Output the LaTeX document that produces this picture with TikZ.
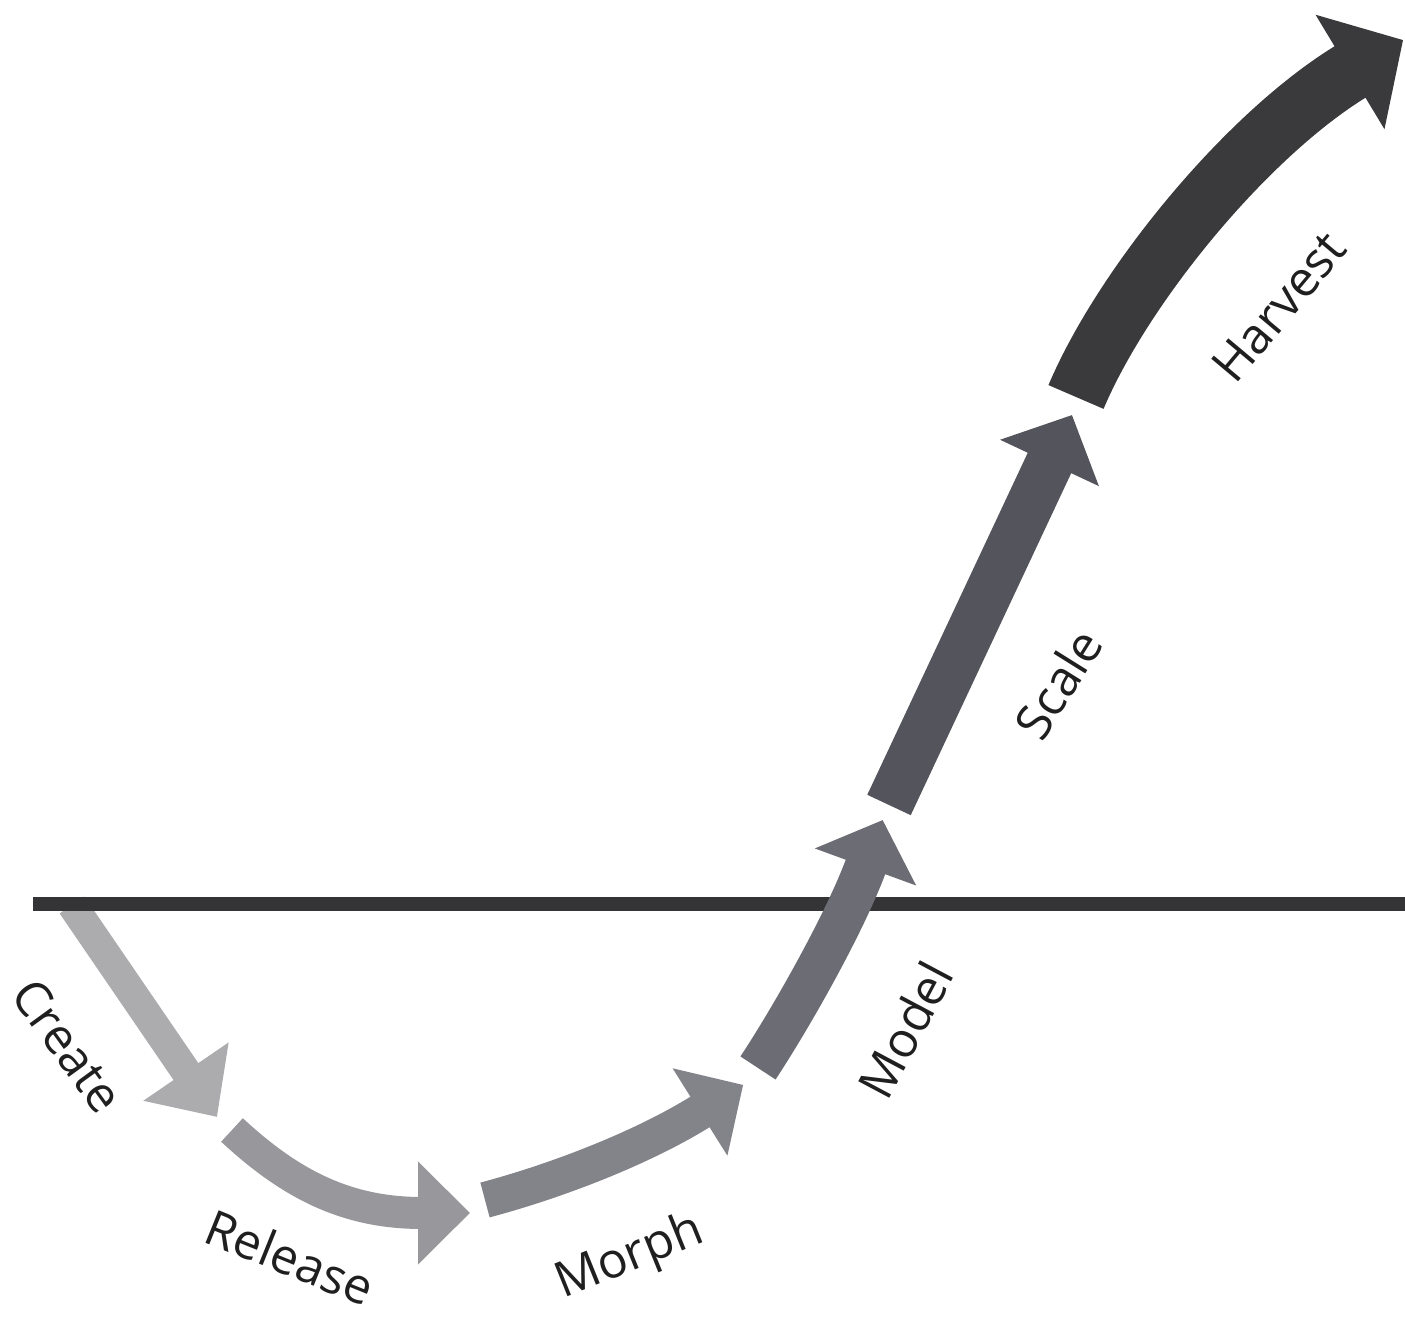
\documentclass[tikz,border=0pt]{standalone}
\usepackage{fontspec}
\setmainfont{Open Sans}
\usepackage{xcolor}
\usetikzlibrary{arrows.meta, calc}

\definecolor{stageA}{RGB}{172,172,175}
\definecolor{stageB}{RGB}{151,151,156}
\definecolor{stageC}{RGB}{131,131,138}
\definecolor{stageD}{RGB}{108,108,116}
\definecolor{stageE}{RGB}{84,84,92}
\definecolor{stageF}{RGB}{58,58,60}
\definecolor{axisgray}{RGB}{52,52,54}

\begin{document}
\begin{tikzpicture}[
    x=1cm, y=1cm,
    every node/.style={font=\fontsize{14}{16}\selectfont, text=black!88, inner sep=0pt},
    stagearrow/.style={line cap=butt, line join=miter},
    axisline/.style={draw=axisgray, line width=0.14cm},
    lbl/.style={anchor=center}
  ]

    \useasboundingbox (0,0) rectangle (14.05,13.20);

    % Stage end points (curved stages end at the base of their head)
    \coordinate (createS)  at (0.72,4.15);
    \coordinate (createT)  at (2.17,2.03);
    \coordinate (releaseS) at (2.32,1.90);
    \coordinate (releaseE) at (4.18,1.07);
    \coordinate (morphS)   at (4.85,1.20);
    \coordinate (morphE)   at (7.00,2.08);
    \coordinate (modelS)   at (7.58,2.52);
    \coordinate (modelE)   at (8.655,4.53);
    \coordinate (scaleS)   at (8.89,5.15);
    \coordinate (scaleT)   at (10.72,9.05);
    \coordinate (harvestS) at (10.76,9.23);
    \coordinate (harvestE) at (13.50,12.48);
    \coordinate (axisL)    at (0.33,4.16);
    \coordinate (axisR)    at (14.05,4.16);

    % Create (starts under the axis)
    \draw[stagearrow, draw=stageA, line width=0.30cm,
          -{Triangle[width=1.00cm, length=0.55cm]}]
      (createS) -- (createT);

    % Axis
    \draw[axisline] (axisL) -- (axisR);

    % Release
    \draw[stagearrow, draw=stageB, line width=0.32cm, shorten >=-0.52cm,
          -{Triangle[width=1.00cm, length=0.52cm]}]
      (releaseS) .. controls (2.87,1.39) and (3.43,1.07) .. (releaseE);

    % Morph
    \draw[stagearrow, draw=stageC, line width=0.36cm, shorten >=-0.51cm,
          -{Triangle[width=1.00cm, length=0.51cm]}]
      (morphS) .. controls (5.53,1.38) and (6.41,1.71) .. (morphE);

    % Model
    \draw[stagearrow, draw=stageD, line width=0.42cm, shorten >=-0.50cm,
          -{Triangle[width=1.05cm, length=0.50cm]}]
      (modelS) .. controls (7.91,3.02) and (8.45,3.97) .. (modelE);

    % Scale
    \draw[stagearrow, draw=stageE, line width=0.48cm,
          -{Triangle[width=1.06cm, length=0.53cm]}]
      (scaleS) -- (scaleT);

    % Harvest
    \draw[stagearrow, draw=stageF, line width=0.60cm, shorten >=-0.62cm,
          -{Triangle[width=1.30cm, length=0.62cm]}]
      (harvestS) .. controls (11.23,10.34) and (12.47,11.86) .. (harvestE);

    % Labels
    \node[lbl, rotate=-54] (createL)  at (0.68,2.74)  {Create};
    \node[lbl, rotate=-22] (releaseL) at (2.90,0.63)  {Release};
    \node[lbl, rotate=22]  (morphL)   at (6.30,0.62)  {Morph};
    \node[lbl, rotate=62]  (modelL)   at (9.05,2.90)  {Model};
    \node[lbl, rotate=58]  (scaleL)   at (10.58,6.36) {Scale};
    \node[lbl, rotate=50]  (harvestL) at (12.79,10.13) {Harvest};

\end{tikzpicture}
\end{document}
